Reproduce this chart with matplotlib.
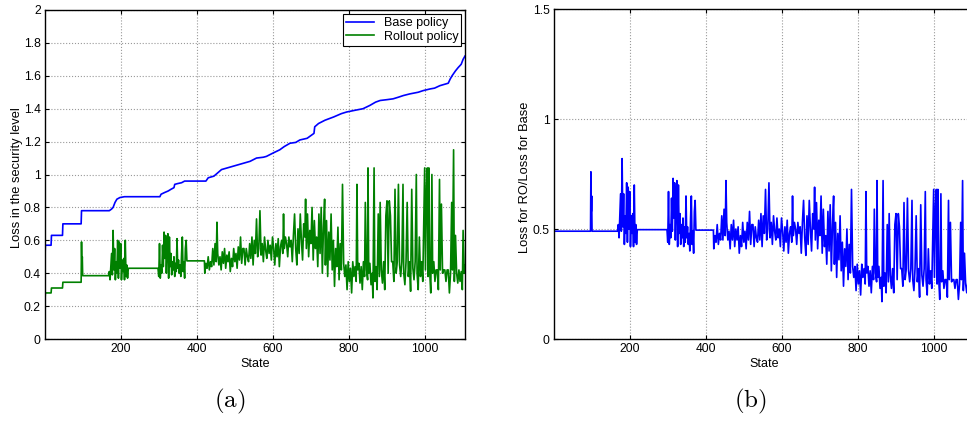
import numpy as np
import matplotlib
matplotlib.use("Agg")
import matplotlib.pyplot as plt
from matplotlib.ticker import FormatStrFormatter

# ---- data ----
# base policy loss (monotone curve), sampled at (state, value)
base_states = [1, 2, 17, 18, 47, 48, 96, 97, 170, 176, 180, 185, 190, 198, 210,
               303, 306, 315, 325, 332, 340, 342, 350, 360, 368, 424, 430, 445,
               455, 465, 480, 495, 510, 525, 540, 557, 575, 583, 600, 618, 630,
               645, 660, 671, 690, 702, 708, 710, 720, 737, 760, 780, 794, 815,
               837, 855, 870, 882, 900, 916, 930, 943, 960, 982, 995, 1013, 1025,
               1039, 1061, 1066, 1071, 1080, 1087, 1095, 1100, 1105]
base_vals = [0.50, 0.57, 0.57, 0.63, 0.63, 0.70, 0.70, 0.78, 0.78, 0.79, 0.80,
             0.83, 0.85, 0.86, 0.865, 0.865, 0.88, 0.89, 0.90, 0.91, 0.92, 0.94,
             0.945, 0.95, 0.96, 0.96, 0.98, 0.99, 1.01, 1.03, 1.04, 1.05, 1.06,
             1.07, 1.08, 1.10, 1.105, 1.11, 1.13, 1.15, 1.17, 1.19, 1.195, 1.21,
             1.22, 1.24, 1.25, 1.29, 1.31, 1.33, 1.35, 1.37, 1.38, 1.39, 1.40,
             1.42, 1.44, 1.45, 1.455, 1.46, 1.47, 1.48, 1.49, 1.50, 1.51, 1.52,
             1.525, 1.54, 1.555, 1.58, 1.60, 1.63, 1.65, 1.67, 1.70, 1.72]

# rollout policy loss
ro_states = [1, 2, 17, 18, 47, 48, 96, 97, 98, 99, 100, 168,
             170, 172, 174, 176, 178, 180, 182, 184, 186, 188, 190, 192, 194, 196,
             198, 200, 202, 204, 206, 208, 210, 212, 214, 216, 218, 220, 298,
             300, 302, 304, 306, 308, 310, 312, 314, 316, 318, 320, 322, 324, 326,
             328, 330, 332, 334, 336, 338, 340, 342, 344, 346, 348, 350, 352, 354,
             356, 358, 360, 362, 364, 366, 368, 370, 372, 374, 420,
             421, 424, 427, 430, 433, 436, 439, 442, 445, 448, 451, 453, 455, 458,
             461, 464, 467, 470, 473, 476, 479, 482, 485, 488, 491, 494, 497, 500,
             503, 506, 509, 512, 515, 518, 521, 524, 527, 530, 533, 536, 539, 542,
             545, 548, 551, 554, 557, 560, 563, 566, 569, 572, 575, 578, 581, 584,
             587, 590, 593, 596, 599, 602, 605, 608, 611, 614, 617, 620, 623, 626,
             628, 630, 633, 636, 639, 642, 645, 648, 651, 654, 657, 660, 663, 666,
             669, 672, 675, 678, 681, 684, 686, 688, 691, 694, 697, 700, 703, 706,
             709, 712, 715, 718, 721, 724, 727, 730, 733, 736, 738, 741, 744, 747,
             750, 753, 756, 759, 762, 765, 768, 771, 774, 777, 780, 783, 786, 789,
             792, 795, 798, 801, 804, 807, 810, 813, 816, 819, 821, 823, 826, 829,
             832, 835, 838, 841, 843, 846, 849, 850, 852, 855, 858, 861, 863, 866,
             868, 871, 874, 877, 880, 882, 885, 888, 891, 894, 897, 900, 903, 906,
             909, 912, 915, 918, 921, 924, 927, 930, 933, 936, 939, 942, 944, 947,
             950, 953, 956, 959, 962, 965, 968, 971, 974, 977, 979, 982, 985, 988,
             991, 994, 997, 999, 1001, 1004, 1006, 1008, 1010, 1012, 1015, 1018,
             1020, 1023, 1026, 1029, 1032, 1035, 1038, 1040, 1043, 1046, 1049, 1052,
             1055, 1058, 1061, 1064, 1067, 1070, 1072, 1075, 1077, 1080, 1083, 1086,
             1089, 1092, 1095, 1098, 1100, 1103, 1105]
ro_vals = [0.24, 0.28, 0.28, 0.31, 0.31, 0.345, 0.345, 0.59, 0.45, 0.50, 0.385, 0.385,
           0.41, 0.36, 0.44, 0.52, 0.39, 0.66, 0.42, 0.55, 0.36, 0.47, 0.40, 0.60,
           0.37, 0.59, 0.43, 0.58, 0.36, 0.48, 0.41, 0.49, 0.36, 0.60, 0.38, 0.45,
           0.37, 0.43, 0.43,
           0.38, 0.58, 0.37, 0.45, 0.40, 0.57, 0.44, 0.65, 0.49, 0.63, 0.40, 0.55,
           0.64, 0.37, 0.62, 0.44, 0.52, 0.39, 0.47, 0.42, 0.50, 0.38, 0.46, 0.41,
           0.61, 0.43, 0.48, 0.40, 0.45, 0.38, 0.52, 0.62, 0.41, 0.47, 0.37, 0.55,
           0.60, 0.475, 0.475,
           0.40, 0.46, 0.43, 0.50, 0.42, 0.47, 0.44, 0.55, 0.45, 0.58, 0.47, 0.71,
           0.52, 0.45, 0.50, 0.42, 0.53, 0.46, 0.55, 0.43, 0.51, 0.47, 0.53, 0.41,
           0.49, 0.44, 0.55, 0.47, 0.52, 0.43, 0.56, 0.48, 0.62, 0.46, 0.55, 0.55,
           0.45, 0.55, 0.50, 0.47, 0.58, 0.49, 0.62, 0.45, 0.60, 0.52, 0.73, 0.50,
           0.55, 0.78, 0.51, 0.58, 0.47, 0.62, 0.54, 0.49, 0.60, 0.52, 0.57, 0.48,
           0.62, 0.55, 0.45, 0.58, 0.50, 0.61, 0.44, 0.56, 0.60, 0.52, 0.76, 0.55,
           0.62, 0.58, 0.50, 0.62, 0.56, 0.60, 0.47, 0.63, 0.76, 0.55, 0.45, 0.67,
           0.52, 0.76, 0.60, 0.48, 0.70, 0.62, 0.85, 0.55, 0.76, 0.50, 0.66, 0.58,
           0.80, 0.48, 0.72, 0.55, 0.62, 0.44, 0.76, 0.52, 0.80, 0.40, 0.68, 0.85,
           0.45, 0.72, 0.38, 0.65, 0.48, 0.76, 0.42, 0.60, 0.32, 0.55, 0.44, 0.68,
           0.36, 0.58, 0.42, 0.94, 0.46, 0.38, 0.45, 0.30, 0.47, 0.35, 0.43, 0.28,
           0.47, 0.38, 0.44, 0.35, 0.94, 0.42, 0.46, 0.34, 0.44, 0.30, 0.47, 0.38,
           0.83, 0.42, 0.36, 1.04, 0.40, 0.46, 0.33, 0.40, 0.25, 1.04, 0.35, 0.44,
           0.30, 0.76, 0.38, 0.83, 0.42, 0.34, 0.47, 0.30, 0.75, 0.84, 0.40, 0.84,
           0.75, 0.47, 0.47, 0.35, 0.91, 0.40, 0.47, 0.94, 0.45, 0.38, 0.47, 0.94,
           0.40, 0.33, 0.47, 0.83, 0.38, 0.47, 0.29, 0.91, 0.43, 0.36, 0.47, 1.00,
           0.40, 0.30, 0.62, 0.38, 0.47, 0.35, 0.75, 1.04, 0.42, 0.93, 1.04, 0.38,
           1.04, 0.42, 0.28, 1.00, 0.40, 0.47, 0.35, 0.42, 0.42, 0.30, 0.97, 0.42,
           0.82, 0.40, 0.42, 0.42, 0.35, 0.42, 0.42, 0.28, 0.40, 0.83, 0.42, 1.15,
           0.35, 0.63, 0.40, 0.34, 0.42, 0.35, 0.41, 0.30, 0.66, 0.40, 0.45]

# ratio rollout / base
ratio_states = [1, 97, 98, 99, 100, 101, 168,
                170, 172, 174, 176, 178, 180, 182, 184, 186, 188, 190, 192, 194, 196,
                198, 200, 202, 204, 206, 208, 210, 212, 214, 216, 218, 220, 298,
                300, 302, 304, 306, 308, 310, 312, 314, 316, 318, 320, 322, 324, 326,
                328, 330, 332, 334, 336, 338, 340, 342, 344, 346, 348, 350, 352, 354,
                356, 358, 360, 362, 364, 366, 368, 370, 372, 374, 420] + ro_states[78:]
ratio_vals = [0.49, 0.49, 0.76, 0.58, 0.65, 0.49, 0.49,
              0.52, 0.46, 0.56, 0.66, 0.49, 0.82, 0.51, 0.66, 0.43, 0.56, 0.48, 0.71,
              0.44, 0.69, 0.50, 0.67, 0.42, 0.56, 0.48, 0.57, 0.42, 0.70, 0.44, 0.52,
              0.43, 0.497, 0.497,
              0.44, 0.67, 0.43, 0.52, 0.46, 0.64, 0.49, 0.73, 0.55, 0.71, 0.45, 0.62,
              0.72, 0.42, 0.70, 0.48, 0.57, 0.43, 0.52, 0.46, 0.55, 0.42, 0.51, 0.44,
              0.65, 0.46, 0.51, 0.43, 0.48, 0.40, 0.55, 0.65, 0.43, 0.49, 0.39, 0.58,
              0.63, 0.495, 0.495,
              0.41, 0.47, 0.44, 0.52, 0.43, 0.48, 0.45, 0.56, 0.45, 0.59, 0.47, 0.72,
              0.53, 0.45, 0.49, 0.41, 0.52, 0.45, 0.54, 0.42, 0.50, 0.45, 0.51, 0.39,
              0.47, 0.42, 0.53, 0.44, 0.49, 0.41, 0.53, 0.45, 0.58, 0.43, 0.52, 0.52,
              0.42, 0.51, 0.46, 0.44, 0.54, 0.45, 0.57, 0.42, 0.56, 0.48, 0.68, 0.45,
              0.50, 0.71, 0.46, 0.53, 0.43, 0.56, 0.49, 0.45, 0.55, 0.46, 0.50, 0.42,
              0.55, 0.49, 0.40, 0.51, 0.44, 0.54, 0.39, 0.48, 0.51, 0.44, 0.65, 0.47,
              0.53, 0.50, 0.43, 0.53, 0.48, 0.51, 0.39, 0.53, 0.63, 0.46, 0.38, 0.56,
              0.43, 0.63, 0.50, 0.40, 0.57, 0.50, 0.69, 0.45, 0.62, 0.41, 0.54, 0.47,
              0.65, 0.39, 0.59, 0.42, 0.47, 0.34, 0.58, 0.40, 0.61, 0.31, 0.52, 0.65,
              0.34, 0.53, 0.28, 0.48, 0.36, 0.56, 0.31, 0.44, 0.24, 0.41, 0.33, 0.50,
              0.27, 0.43, 0.30, 0.68, 0.33, 0.28, 0.33, 0.22, 0.34, 0.25, 0.31, 0.20,
              0.34, 0.28, 0.32, 0.25, 0.67, 0.30, 0.33, 0.24, 0.31, 0.21, 0.33, 0.27,
              0.59, 0.30, 0.26, 0.72, 0.28, 0.33, 0.23, 0.28, 0.17, 0.72, 0.24, 0.30,
              0.21, 0.52, 0.26, 0.57, 0.29, 0.23, 0.32, 0.21, 0.52, 0.57, 0.27, 0.57,
              0.51, 0.32, 0.32, 0.24, 0.62, 0.27, 0.32, 0.64, 0.31, 0.26, 0.32, 0.63,
              0.27, 0.22, 0.32, 0.56, 0.26, 0.32, 0.19, 0.61, 0.29, 0.24, 0.32, 0.67,
              0.27, 0.20, 0.41, 0.25, 0.31, 0.23, 0.49, 0.68, 0.28, 0.61, 0.68, 0.25,
              0.68, 0.28, 0.18, 0.66, 0.26, 0.31, 0.23, 0.27, 0.27, 0.19, 0.63, 0.27,
              0.53, 0.26, 0.27, 0.27, 0.23, 0.27, 0.27, 0.18, 0.25, 0.53, 0.27, 0.72,
              0.22, 0.39, 0.25, 0.21, 0.26, 0.21, 0.24, 0.18, 0.39, 0.24, 0.26]

x_ticks = [200, 400, 600, 800, 1000]
y_ticks_a = [0, 0.2, 0.4, 0.6, 0.8, 1, 1.2, 1.4, 1.6, 1.8, 2]
y_ticks_b = [0, 0.5, 1, 1.5]

plt.rcParams['font.family'] = ['Liberation Sans', 'DejaVu Sans']
plt.rcParams['mathtext.fontset'] = 'cm'

fig = plt.figure(figsize=(9.67, 4.22), dpi=100)
W, H = 967.0, 422.0


def style(ax):
    ax.grid(True, color="#999999", linestyle=":", linewidth=0.8)
    ax.tick_params(direction="in", top=True, right=True, length=3, labelsize=8.7, pad=3)
    ax.yaxis.set_major_formatter(FormatStrFormatter("%g"))
    for sp in ax.spines.values():
        sp.set_linewidth(1.0)


# (a)
ax1 = fig.add_axes([45 / W, (H - 339) / H, 420 / W, 329 / H])
ax1.plot(base_states, base_vals, color="#0000ff", lw=1.2, label="Base policy")
ax1.plot(ro_states, ro_vals, color="#008000", lw=1.2, label="Rollout policy")
ax1.set_xlim(1, 1105)
ax1.set_ylim(0, 2)
ax1.set_xticks(x_ticks)
ax1.set_yticks(y_ticks_a)
style(ax1)
ax1.set_xlabel("State", fontsize=9)
ax1.set_ylabel("Loss in the security level", fontsize=9.3)
ax1.xaxis.set_label_coords(0.5, -0.058)
ax1.yaxis.set_label_coords(-0.052, 0.49)
leg = ax1.legend(loc="upper right", bbox_to_anchor=(1, 1), borderaxespad=0.3,
                 fontsize=9, fancybox=False, framealpha=1, edgecolor="black",
                 handlelength=2.2, borderpad=0.25, labelspacing=0.15)
leg.get_frame().set_linewidth(0.8)

# (b)
ax2 = fig.add_axes([554 / W, (H - 339) / H, 420 / W, 330 / H])
ax2.plot(ratio_states, ratio_vals, color="#0000ff", lw=1.2)
ax2.set_xlim(1, 1105)
ax2.set_ylim(0, 1.5)
ax2.set_xticks(x_ticks)
ax2.set_yticks(y_ticks_b)
style(ax2)
ax2.set_xlabel("State", fontsize=9)
ax2.set_ylabel("Loss for RO/Loss for Base", fontsize=9.3)
ax2.xaxis.set_label_coords(0.5, -0.058)
ax2.yaxis.set_label_coords(-0.055, 0.49)

fig.text(230 / W, (H - 401) / H, r"$\mathrm{(a)}$", fontsize=18, ha="center", va="center")
fig.text(750 / W, (H - 401) / H, r"$\mathrm{(b)}$", fontsize=18, ha="center", va="center")

fig.savefig("out.png", dpi=100)
